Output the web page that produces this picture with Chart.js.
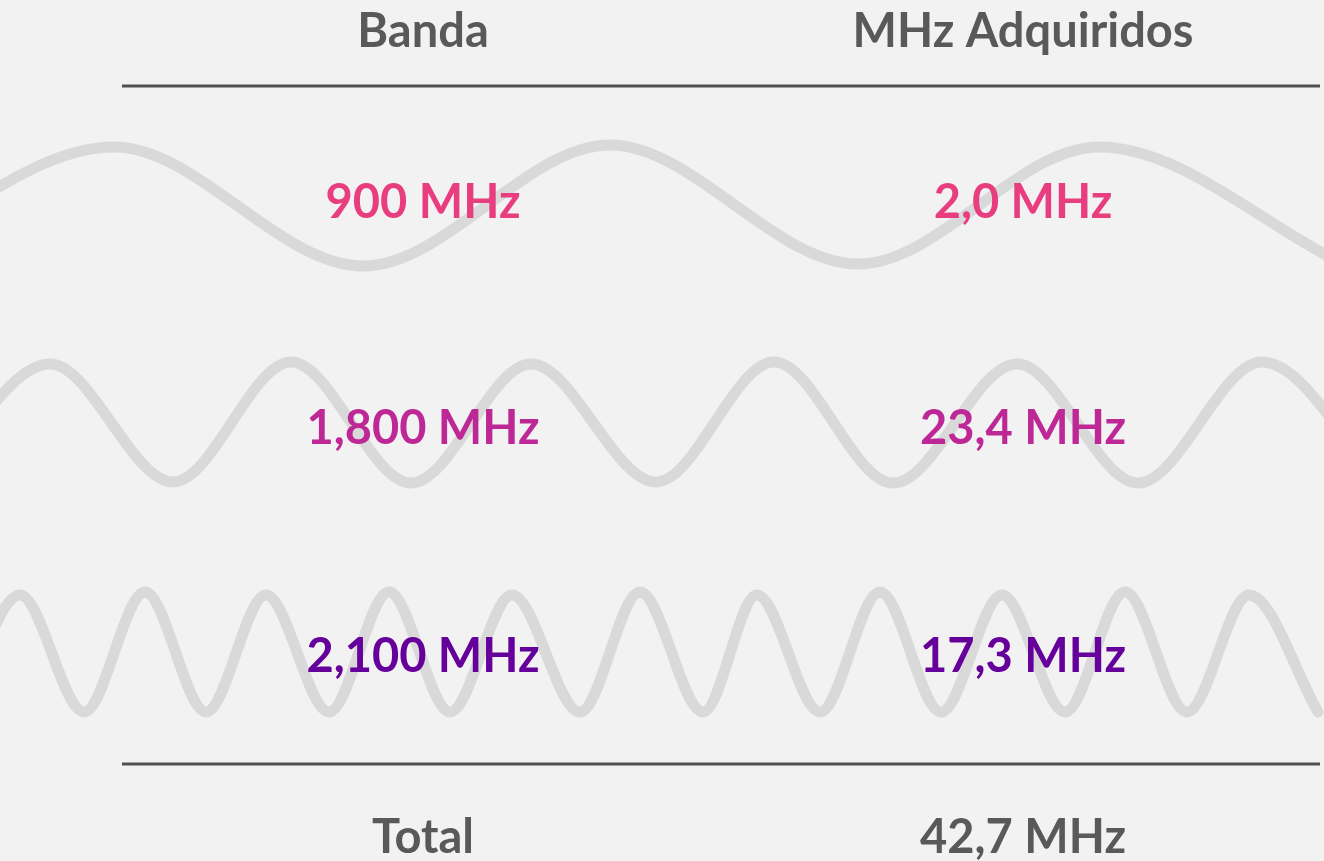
<!DOCTYPE html>
<html lang="es">
<head>
    <meta charset="UTF-8">
    <title>Banda / MHz Adquiridos</title>
    <script src="https://cdn.jsdelivr.net/npm/chart.js"></script>
    <style>
        body {
            margin: 0;
            padding: 0;
            background-color: #f2f2f2;
            overflow: hidden;
        }
        canvas {
            display: block;
        }
    </style>
</head>
<body>

    <canvas id="bandChart" width="1324" height="861"></canvas>

    <script>
        // 表のテキスト
        const headers = ['Banda', 'MHz Adquiridos'];
        const bands = ['900 MHz', '1,800 MHz', '2,100 MHz'];
        const acquired = ['2,0 MHz', '23,4 MHz', '17,3 MHz'];
        const totalLabel = 'Total';
        const totalValue = '42,7 MHz';

        // 波の山と谷 (x, y) - 画像から読み取った値
        const wave900X = [-131, 114, 363, 610, 858, 1099, 1345];
        const wave900Y = [265, 147, 266, 145, 264, 147, 265];

        const wave1800X = [-70, 50, 173, 291, 411, 531, 656, 774, 893, 1017, 1138, 1262, 1383];
        const wave1800Y = [483, 364, 482, 362, 483, 364, 482, 362, 483, 364, 483, 362, 483];

        const wave2100X = [-41, 20, 84, 145, 206, 266, 329, 389, 450, 512, 580, 640,
                           703, 757, 820, 880, 941, 1002, 1065, 1125, 1187, 1249, 1318];
        const wave2100Y = [712, 595, 712, 592, 712, 595, 712, 592, 712, 595, 712, 592,
                           712, 595, 712, 592, 712, 595, 712, 592, 712, 595, 712];

        // 区切り線
        const ruleX = [122, 1320];
        const ruleY = [86, 764];

        // レイアウトと色
        const columnX = [423, 1023];
        const headerY = 47;
        const rowY = [218, 444, 672];
        const totalY = 853;
        const rowColors = ['#e83e7f', '#be2896', '#66009a'];
        const greyText = '#595959';

        function points(xs, ys) {
            return xs.map((x, i) => ({ x: x, y: ys[i] }));
        }

        function waveDataset(xs, ys) {
            return {
                data: points(xs, ys),
                showLine: true,
                borderColor: '#d9d9d9',
                borderWidth: 11,
                borderCapStyle: 'round',
                borderJoinStyle: 'round',
                cubicInterpolationMode: 'monotone',
                pointRadius: 0,
                order: 2
            };
        }

        function ruleDataset(y) {
            return {
                data: ruleX.map(x => ({ x: x, y: y })),
                showLine: true,
                borderColor: '#505050',
                borderWidth: 3,
                pointRadius: 0,
                order: 1
            };
        }

        // テキストを描くプラグイン
        const tableText = {
            id: 'tableText',
            afterDatasetsDraw(chart) {
                const ctx = chart.ctx;
                const xs = chart.scales.x;
                const ys = chart.scales.y;
                ctx.save();
                ctx.font = 'bold 47px Lato, "Noto Sans", sans-serif';
                ctx.textAlign = 'center';
                ctx.textBaseline = 'alphabetic';

                const put = (text, col, y, color) => {
                    ctx.fillStyle = color;
                    ctx.fillText(text, xs.getPixelForValue(columnX[col]), ys.getPixelForValue(y));
                };

                put(headers[0], 0, headerY, greyText);
                put(headers[1], 1, headerY, greyText);
                bands.forEach((b, i) => {
                    put(b, 0, rowY[i], rowColors[i]);
                    put(acquired[i], 1, rowY[i], rowColors[i]);
                });
                put(totalLabel, 0, totalY, greyText);
                put(totalValue, 1, totalY, greyText);
                ctx.restore();
            }
        };

        const ctx = document.getElementById('bandChart').getContext('2d');
        new Chart(ctx, {
            type: 'scatter',
            data: {
                datasets: [
                    waveDataset(wave900X, wave900Y),
                    waveDataset(wave1800X, wave1800Y),
                    waveDataset(wave2100X, wave2100Y),
                    ruleDataset(ruleY[0]),
                    ruleDataset(ruleY[1])
                ]
            },
            options: {
                responsive: false,
                animation: false,
                layout: { padding: 0 },
                plugins: {
                    legend: { display: false },
                    tooltip: { enabled: false }
                },
                scales: {
                    x: { type: 'linear', min: 0, max: 1324, display: false },
                    y: { type: 'linear', min: 0, max: 861, reverse: true, display: false }
                }
            },
            plugins: [tableText]
        });
    </script>

</body>
</html>
